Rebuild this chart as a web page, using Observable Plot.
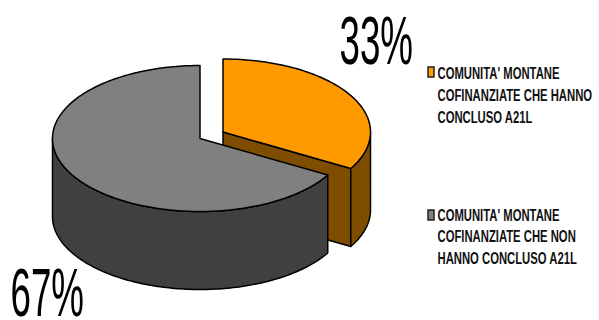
<!DOCTYPE html>
<html><head><meta charset="utf-8">
<script src="https://cdn.jsdelivr.net/npm/d3@7"></script>
<script src="https://cdn.jsdelivr.net/npm/@observablehq/plot@0.6"></script>
<style>html,body{margin:0;padding:0;background:#fff;overflow:hidden}svg{display:block}</style>
</head><body><div id="chart"></div>
<script>
const categories = ["COFINANZIATE CHE HANNO CONCLUSO A21L", "COFINANZIATE CHE NON HANNO CONCLUSO A21L"];
const values = [33.33, 66.67];
const percentLabels = ["33%", "67%"];
const topColors = ["#FF9900", "#808080"];
const wallColors = ["#7F4D00", "#404040"];
const legendLines = [
  ["COMUNITA' MONTANE", "COFINANZIATE CHE HANNO", "CONCLUSO A21L"],
  ["COMUNITA' MONTANE", "COFINANZIATE CHE NON", "HANNO CONCLUSO A21L"]
];

// 3D pie geometry
const rx = 147.5, ry = 73, depth = 78;
const centers = [[222.5, 131.5], [199.5, 138]];
const arcs = d3.pie().sort(null).startAngle(0).endAngle(2 * Math.PI)(values);

const pt = (c, a, dy = 0) => ({x: c[0] + rx * Math.sin(a), y: c[1] - ry * Math.cos(a) + dy});
function arcPts(c, a0, a1, dy = 0) {
  const n = Math.max(2, Math.ceil(Math.abs(a1 - a0) / 0.02));
  return d3.range(n + 1).map(i => pt(c, a0 + (a1 - a0) * i / n, dy));
}
const close = p => [...p, p[0]];
const topSlice = i => {
  const c = centers[i], {startAngle: s, endAngle: e} = arcs[i];
  return close([{x: c[0], y: c[1]}, ...arcPts(c, s, e)]);
};
// visible part of outer wall: the lower half of the ellipse (pi/2 .. 3pi/2)
const outerWall = i => {
  const c = centers[i], {startAngle: s, endAngle: e} = arcs[i];
  const a0 = Math.max(s, Math.PI / 2), a1 = Math.min(e, 3 * Math.PI / 2);
  return close([...arcPts(c, a0, a1), ...arcPts(c, a1, a0, depth)]);
};
// cut face of the orange slice, along its end radius
const cutWall = i => {
  const c = centers[i], e = arcs[i].endAngle, p = pt(c, e), q = pt(c, e, depth);
  return close([{x: c[0], y: c[1]}, p, q, {x: c[0], y: c[1] + depth}]);
};

const shape = (data, fill) => Plot.line(data, {
  x: "x", y: "y", fill, stroke: "#000", strokeWidth: 1.5, strokeLinejoin: "round", curve: "linear"
});

const legendText = (lines, ys) => Plot.text(lines.map((t, i) => ({t, y: ys[i]})), {
  x: () => 437, y: "y", text: "t", textAnchor: "start", fontSize: 16, fontWeight: "bold",
  fontFamily: "Liberation Sans", fill: "#111", className: "legend-label"
});

const plot = Plot.plot({
  width: 599, height: 320, margin: 0,
  x: {domain: [0, 599], range: [0, 599], axis: null},
  y: {domain: [0, 320], range: [0, 320], axis: null},
  marks: [
    shape(cutWall(0), wallColors[0]),
    shape(outerWall(0), wallColors[0]),
    shape(topSlice(0), topColors[0]),
    shape(outerWall(1), wallColors[1]),
    shape(topSlice(1), topColors[1]),
    Plot.text([percentLabels[0]], {x: () => 339, y: () => 42, text: d => d, textAnchor: "start",
      fontSize: 68, fontFamily: "Liberation Sans", fill: "#000", className: "pct-label"}),
    Plot.text([percentLabels[1]], {x: () => 10, y: () => 294, text: d => d, textAnchor: "start",
      fontSize: 68, fontFamily: "Liberation Sans", fill: "#000", className: "pct-label"}),
    Plot.rect([0], {x1: () => 428, x2: () => 434, y1: () => 67, y2: () => 77,
      fill: topColors[0], stroke: "#222", strokeWidth: 1.5}),
    Plot.rect([1], {x1: () => 428, x2: () => 434, y1: () => 210, y2: () => 220,
      fill: topColors[1], stroke: "#222", strokeWidth: 1.5}),
    legendText(legendLines[0], [73, 95, 117]),
    legendText(legendLines[1], [215, 236, 258])
  ]
});
document.getElementById("chart").append(plot);

// condense the type as in the original (narrow stretched glyphs)
function condense(sel, ratio) {
  plot.querySelectorAll(sel + " text").forEach(t => {
    t.setAttribute("textLength", t.getComputedTextLength() * ratio);
    t.setAttribute("lengthAdjust", "spacingAndGlyphs");
  });
}
condense(".legend-label", 0.705);
condense(".pct-label", 0.54);
</script>
</body></html>
